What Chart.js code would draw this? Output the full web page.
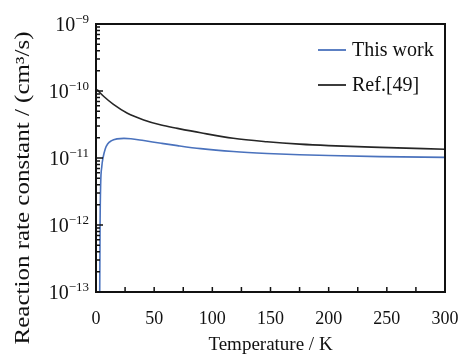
<!DOCTYPE html>
<html>
<head>
<meta charset="utf-8">
<script src="https://cdn.jsdelivr.net/npm/chart.js@4"></script>
<style>
  body { margin: 0; background: #fff; }
  canvas { display: block; }
</style>
</head>
<body>
<canvas id="rateChart" width="463" height="356"></canvas>
<script>
// Data
const workTemps = [3.2, 3.5, 4, 5, 6, 8, 10, 13, 18, 24, 30, 41, 56, 70, 90, 118, 147, 175, 200, 244, 300];
const workRates = [1e-13, 1e-12, 4e-12, 7.5e-12, 1.0e-11, 1.38e-11, 1.62e-11, 1.8e-11, 1.93e-11, 1.96e-11, 1.94e-11, 1.82e-11, 1.66e-11, 1.53e-11, 1.38e-11, 1.25e-11, 1.17e-11, 1.12e-11, 1.09e-11, 1.05e-11, 1.02e-11];

const refTemps = [1, 3, 7, 15, 27, 41, 56, 70, 90, 118, 147, 175, 200, 244, 300];
const refRates = [1.05e-10, 9.6e-11, 8.2e-11, 6.3e-11, 4.65e-11, 3.7e-11, 3.1e-11, 2.77e-11, 2.38e-11, 1.97e-11, 1.75e-11, 1.61e-11, 1.53e-11, 1.44e-11, 1.35e-11];

const seriesLabels = ['This work', 'Ref.[49]'];
const seriesColors = ['#4a72bd', '#262626'];

const yTickValues = [1e-13, 1e-12, 1e-11, 1e-10, 1e-9];
const yTickExponents = ['\u221213', '\u221212', '\u221211', '\u221210', '\u22129'];
const xMinorTicks = [25, 50, 75, 100, 125, 150, 175, 200, 225, 250, 275];

const SERIF = '"Liberation Serif", "Times New Roman", serif';

const toPoints = (xs, ys) => xs.map((x, i) => ({ x: x, y: ys[i] }));

// frame, inward ticks, y labels, y title, legend
const decorations = {
  id: 'decorations',
  afterDraw(chart) {
    const ctx = chart.ctx;
    const area = chart.chartArea;
    const xs = chart.scales.x;
    const ys = chart.scales.y;
    ctx.save();

    // tick marks (inward)
    ctx.strokeStyle = '#111';
    ctx.lineWidth = 1.5;
    ctx.beginPath();
    xMinorTicks.forEach(v => {
      const px = xs.getPixelForValue(v);
      ctx.moveTo(px, area.bottom);
      ctx.lineTo(px, area.bottom - 5);
    });
    for (let d = 0; d < yTickValues.length - 1; d++) {
      for (let m = 1; m <= 9; m++) {
        const py = ys.getPixelForValue(yTickValues[d] * m);
        ctx.moveTo(area.left, py);
        ctx.lineTo(area.left + (m === 1 ? 7 : 4), py);
      }
    }
    ctx.stroke();

    // frame
    ctx.lineWidth = 2;
    ctx.strokeStyle = '#111';
    ctx.strokeRect(area.left, area.top, area.right - area.left, area.bottom - area.top);

    // y tick labels 10^n
    ctx.fillStyle = '#111';
    ctx.textBaseline = 'alphabetic';
    yTickValues.forEach((v, i) => {
      const py = ys.getPixelForValue(v);
      ctx.font = '13px ' + SERIF;
      const supW = ctx.measureText(yTickExponents[i]).width;
      const right = 89;
      ctx.textAlign = 'left';
      ctx.fillText(yTickExponents[i], right - supW, py - 1);
      ctx.font = '20px ' + SERIF;
      ctx.textAlign = 'right';
      ctx.fillText('10', right - supW, py + 7);
    });

    // y axis title, stretched along its length like the original
    ctx.save();
    ctx.translate(24, 188);
    ctx.rotate(-Math.PI / 2);
    ctx.scale(1.25, 1);
    ctx.font = '20px ' + SERIF;
    ctx.textAlign = 'center';
    ctx.textBaseline = 'middle';
    ctx.fillText('Reaction rate constant / (cm\u00b3/s)', 0, 0);
    ctx.restore();

    // legend
    ctx.font = '20px ' + SERIF;
    ctx.textAlign = 'left';
    ctx.textBaseline = 'middle';
    chart.data.datasets.forEach((ds, i) => {
      const ly = 50 + i * 35;
      ctx.strokeStyle = ds.borderColor;
      ctx.lineWidth = 1.8;
      ctx.beginPath();
      ctx.moveTo(318, ly);
      ctx.lineTo(346, ly);
      ctx.stroke();
      ctx.fillStyle = '#111';
      ctx.fillText(ds.label, 352, ly + 1);
    });

    ctx.restore();
  }
};

new Chart(document.getElementById('rateChart'), {
  type: 'line',
  data: {
    datasets: [
      { label: seriesLabels[0], data: toPoints(workTemps, workRates), borderColor: seriesColors[0], borderWidth: 1.6, pointRadius: 0, cubicInterpolationMode: 'monotone' },
      { label: seriesLabels[1], data: toPoints(refTemps, refRates), borderColor: seriesColors[1], borderWidth: 1.6, pointRadius: 0, cubicInterpolationMode: 'monotone' }
    ]
  },
  options: {
    responsive: false,
    animation: false,
    layout: { autoPadding: false, padding: { top: 24, right: 18, left: 0, bottom: 0 } },
    plugins: { legend: { display: false }, tooltip: { enabled: false } },
    scales: {
      x: {
        type: 'linear',
        min: 0,
        max: 300,
        grid: { display: false },
        border: { display: false },
        ticks: { stepSize: 50, color: '#111', padding: 8, maxRotation: 0, font: { family: SERIF, size: 18 } },
        title: { display: true, text: 'Temperature / K', color: '#111', padding: { top: 0, bottom: 0 }, font: { family: SERIF, size: 19 } },
        afterFit: s => { s.height = 64; s.paddingLeft = 0; s.paddingRight = 0; }
      },
      y: {
        type: 'logarithmic',
        min: 1e-13,
        max: 1e-9,
        grid: { display: false },
        border: { display: false },
        ticks: { display: false },
        afterFit: s => { s.width = 96; s.paddingTop = 0; s.paddingBottom = 0; }
      }
    }
  },
  plugins: [decorations]
});
</script>
</body>
</html>
